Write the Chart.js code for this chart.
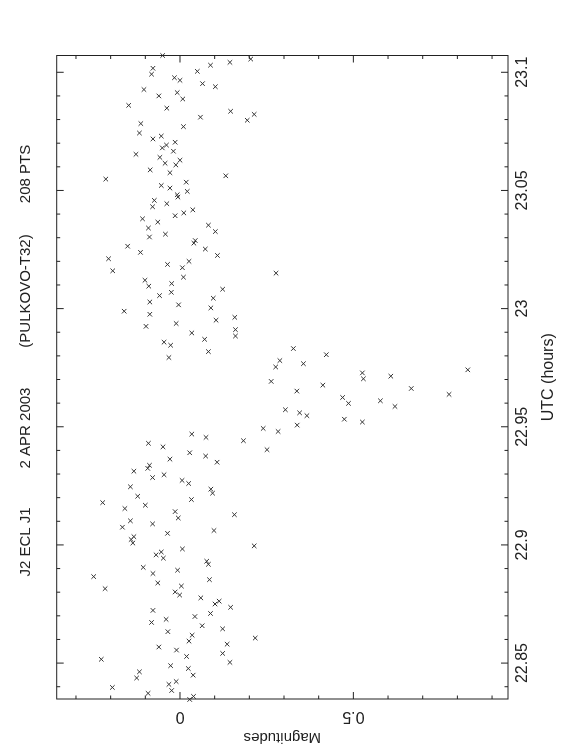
<!DOCTYPE html>
<html>
<head>
<meta charset="utf-8">
<script src="https://cdn.jsdelivr.net/npm/chart.js@4/dist/chart.umd.min.js"></script>
<style>
  html, body { margin: 0; padding: 0; background: #fff; overflow: hidden; }
  #page { position: relative; width: 562px; height: 756px; }
  /* the plot is drawn landscape and turned a quarter turn, like the printed page */
  #plot { position: absolute; left: 0; top: 0; width: 756px; height: 562px;
          transform-origin: 0 0; transform: translate(0, 756px) rotate(-90deg); }
</style>
</head>
<body>
<div id="page"><div id="plot"><canvas id="lc" width="756" height="562"></canvas></div></div>
<script>
// UTC (hours) and magnitude of every point
const utc = [
  23.1071, 23.1056, 23.1042, 23.1030, 23.1004, 23.1017, 23.0992, 23.0977, 23.0966, 23.0952,
  23.0939, 23.0927, 23.0900, 23.0914, 23.0887, 23.0860, 23.0848, 23.0835, 23.0822, 23.0797,
  23.0810, 23.0783, 23.0770, 23.0743, 23.0718, 23.0730, 23.0692, 23.0704, 23.0680, 23.0666,
  23.0653, 23.0640, 23.0615, 23.0628, 23.0608,
  23.0587, 23.0575, 23.0548, 23.0562, 23.0521, 23.0510, 23.0535, 23.0496, 23.0482, 23.0472,
  23.0458, 23.0431, 23.0444, 23.0393, 23.0405, 23.0418, 23.0380, 23.0366, 23.0341, 23.0315,
  23.0303, 23.0353, 23.0326, 23.0288, 23.0277, 23.0252, 23.0225, 23.0264, 23.0238, 23.0211,
  23.0187, 23.0200, 23.0173, 23.0160, 23.0150,
  23.0120, 23.0095, 23.0106, 23.0133, 23.0069, 23.0055, 23.0082, 23.0044, 23.0028, 23.0016,
  23.0003, 22.9989, 22.9976, 22.9951, 22.9963, 22.9925, 22.9937, 22.9911, 22.9884, 22.9897,
  22.9870, 22.9858, 22.9845, 22.9818, 22.9793, 22.9831, 22.9805, 22.9780, 22.9753, 22.9767,
  22.9728, 22.9703, 22.9714, 22.9741, 22.9692,
  22.9676, 22.9651, 22.9662, 22.9637, 22.9624, 22.9599, 22.9610, 22.9586, 22.9572, 22.9559,
  22.9547, 22.9532, 22.9520, 22.9507, 22.9493, 22.9480, 22.9441, 22.9403, 22.9469, 22.9455,
  22.9430, 22.9415, 22.9390, 22.9376, 22.9350, 22.9363, 22.9337, 22.9324, 22.9312, 22.9285,
  22.9297, 22.9273, 22.9260, 22.9246, 22.9236,
  22.9206, 22.9179, 22.9154, 22.9168, 22.9192, 22.9219, 22.9141, 22.9114, 22.9128, 22.9102,
  22.9089, 22.9075, 22.9049, 22.9061, 22.9035, 22.9023, 22.9008, 22.8996, 22.8983, 22.8958,
  22.8970, 22.8944, 22.8931, 22.8918, 22.8905, 22.8879, 22.8893, 22.8866, 22.8853, 22.8839,
  22.8815, 22.8826, 22.8801, 22.8788, 22.8776,
  22.8762, 22.8750, 22.8736, 22.8723, 22.8710, 22.8697, 22.8685, 22.8672, 22.8658, 22.8645,
  22.8633, 22.8618, 22.8593, 22.8606, 22.8580, 22.8568, 22.8555, 22.8541, 22.8528, 22.8516,
  22.8503, 22.8489, 22.8477, 22.8449, 22.8463, 22.8437, 22.8422, 22.8410, 22.8397, 22.8384,
  22.8372, 22.8359, 22.8346
];
const mag = [
  -0.050, 0.204, 0.144, 0.088, 0.050, -0.078, -0.082, -0.016, 0.000, 0.065,
  0.102, -0.104, -0.061, -0.008, 0.008, -0.148, -0.038, 0.146, 0.214, 0.194,
  0.059, -0.113, 0.010, -0.117, -0.078, -0.054, -0.039, -0.014, -0.051, -0.019,
  -0.127, -0.058, -0.043, 0.000, -0.012,
  -0.086, -0.029, -0.214, 0.132, -0.054, -0.029, 0.018, 0.021, -0.008, -0.006,
  -0.074, -0.079, -0.038, -0.014, 0.011, 0.037, -0.108, -0.064, -0.091, -0.042,
  -0.088, 0.082, 0.102, 0.044, 0.040, 0.073, 0.108, -0.151, -0.114, -0.206,
  -0.036, 0.026, 0.007, -0.194, 0.277,
  -0.101, -0.090, -0.024, 0.010, -0.025, -0.059, 0.123, 0.096, -0.087, -0.004,
  0.089, -0.161, -0.087, 0.104, 0.158, -0.098, -0.011, 0.160, 0.160, 0.034,
  0.071, -0.046, -0.027, 0.082, -0.032, 0.327, 0.422, 0.288, 0.276, 0.356,
  0.526, 0.529, 0.608, 0.830, 0.263,
  0.412, 0.337, 0.667, 0.776, 0.469, 0.486, 0.578, 0.620, 0.304, 0.345,
  0.366, 0.474, 0.526, 0.338, 0.240, 0.283, 0.183, 0.251, 0.034, 0.075,
  -0.091, -0.049, 0.028, 0.074, 0.107, -0.029, -0.088, -0.093, -0.133, -0.079,
  -0.046, 0.006, 0.025, -0.143, 0.089,
  -0.122, -0.223, -0.159, -0.100, 0.033, 0.094, -0.014, -0.005, 0.157, -0.143,
  -0.079, -0.166, -0.036, 0.098, -0.133, -0.141, -0.136, 0.214, 0.007, -0.069,
  -0.054, -0.048, 0.077, 0.082, -0.106, -0.078, -0.007, -0.249, 0.085, -0.064,
  -0.216, 0.004, -0.014, -0.001, 0.060,
  0.113, 0.101, 0.146, -0.078, 0.088, 0.043, -0.040, -0.082, 0.064, 0.123,
  -0.035, 0.035, 0.026, 0.217, 0.136, -0.061, -0.010, 0.123, 0.019, -0.227,
  0.144, -0.027, 0.024, 0.038, -0.117, -0.125, -0.011, -0.032, -0.195, -0.024,
  -0.092, 0.039, 0.028
];

// axes
const utcMin = 22.8348, utcMax = 23.1071;
const magMin = -0.3556, magMax = 0.946;
const utcTicks = [22.85, 22.9, 22.95, 23, 23.05, 23.1];
const utcLabels = ['22.85', '22.9', '22.95', '23', '23.05', '23.1'];
const magTicks = [0, 0.5];
const magLabels = ['0', '0.5'];

const titleParts = ['J2 ECL J1', '2 APR 2003', '(PULKOVO-T32)', '208 PTS'];

const ink = '#222';
const labelFont = { family: "'Liberation Sans', Arial, sans-serif", size: 16 };
const titleFont = { family: "'Liberation Sans', Arial, sans-serif", size: 15 };

// box with inward ticks on all four sides, minor every 0.01 h / 0.1 mag
const frameTicks = {
  id: 'frameTicks',
  afterDatasetsDraw(chart) {
    const ctx = chart.ctx;
    const a = chart.chartArea;
    const x = chart.scales.x, y = chart.scales.y;
    ctx.save();
    ctx.strokeStyle = ink;
    ctx.lineWidth = 1;
    ctx.strokeRect(a.left, a.top, a.right - a.left, a.bottom - a.top);
    ctx.beginPath();
    for (let k = 2284; k <= 2311; k++) {
      const px = x.getPixelForValue(k / 100);
      if (px < a.left || px > a.right) continue;
      const len = k % 5 === 0 ? 7 : 3.5;
      ctx.moveTo(px, a.bottom); ctx.lineTo(px, a.bottom - len);
      ctx.moveTo(px, a.top); ctx.lineTo(px, a.top + len);
    }
    for (let k = -3; k <= 9; k++) {
      const py = y.getPixelForValue(k / 10);
      if (py < a.top || py > a.bottom) continue;
      const len = k % 5 === 0 ? 7 : 3.5;
      ctx.moveTo(a.left, py); ctx.lineTo(a.left + len, py);
      ctx.moveTo(a.right, py); ctx.lineTo(a.right - len, py);
    }
    ctx.stroke();
    ctx.restore();
  },
  afterDraw(chart) {
    const ctx = chart.ctx;
    const centers = [214, 328, 465, 582];
    ctx.save();
    ctx.fillStyle = ink;
    ctx.font = titleFont.size + 'px ' + titleFont.family;
    ctx.textAlign = 'center';
    ctx.textBaseline = 'middle';
    titleParts.forEach((t, i) => ctx.fillText(t, centers[i], 26));
    ctx.restore();
  }
};

new Chart(document.getElementById('lc'), {
  type: 'scatter',
  data: {
    datasets: [{
      data: utc.map((t, i) => ({ x: t, y: mag[i] })),
      pointStyle: 'crossRot',
      pointRadius: 3.2,
      borderWidth: 1,
      borderColor: '#333',
      backgroundColor: '#333',
      clip: false
    }]
  },
  options: {
    responsive: false,
    animation: false,
    layout: { padding: { top: 56.7, right: 55.5, left: 0, bottom: 0 } },
    plugins: { legend: { display: false }, tooltip: { enabled: false } },
    scales: {
      x: {
        type: 'linear', position: 'bottom', min: utcMin, max: utcMax,
        afterBuildTicks: s => { s.ticks = utcTicks.map(v => ({ value: v })); },
        afterFit: s => { s.height = 54; },
        grid: { display: false, drawTicks: false },
        border: { display: false },
        ticks: { color: ink, font: labelFont, padding: 5, maxRotation: 0,
                 callback: (v, i) => utcLabels[i] },
        title: { display: true, text: 'UTC (hours)', color: ink, font: labelFont,
                 padding: { top: 0, bottom: 4 } }
      },
      y: {
        type: 'linear', position: 'left', reverse: true, min: magMin, max: magMax,
        afterBuildTicks: s => { s.ticks = magTicks.map(v => ({ value: v })); },
        afterFit: s => { s.width = 57; },
        grid: { display: false, drawTicks: false },
        border: { display: false },
        ticks: { color: ink, font: labelFont, padding: 6, minRotation: 90, maxRotation: 90,
                 crossAlign: 'center', callback: (v, i) => magLabels[i] },
        title: { display: true, text: 'Magnitudes', color: ink, font: titleFont,
                 padding: { top: 10, bottom: 0 } }
      }
    }
  },
  plugins: [frameTicks]
});
</script>
</body>
</html>
